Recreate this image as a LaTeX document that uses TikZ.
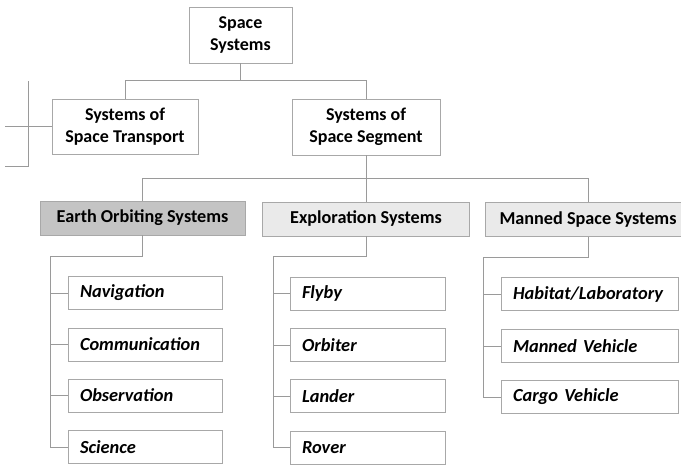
\documentclass[tikz,border=0pt]{standalone}
\usepackage{fontspec}
\setmainfont{Carlito}
\definecolor{lineg}{HTML}{9A9A9A}
\definecolor{boxg}{HTML}{A8A8A8}
\definecolor{darkfill}{HTML}{C4C4C4}
\definecolor{lightfill}{HTML}{EAEAEA}
\tikzset{
  conn/.style={draw=lineg, line width=0.6pt},
  topbox/.style={draw=boxg, line width=0.7pt, fill=white, align=center, inner sep=0pt,
    font=\fontsize{18}{22}\selectfont\bfseries},
  catbox/.style={draw=boxg, line width=0.7pt, inner sep=0pt, minimum height=34pt,
    font=\fontsize{18.2}{22}\selectfont\bfseries},
  leafbox/.style={draw=boxg, line width=0.7pt, fill=white, inner xsep=12pt, inner ysep=0pt,
    minimum height=33pt, align=left,
    font=\fontsize{18.4}{22}\selectfont\bfseries\itshape},
}
\begin{document}
\begin{tikzpicture}[x=1pt,y=-1pt]
\clip (0,0) rectangle (681,466);
\fill[white] (0,0) rectangle (681,466);
% level 0 and 1
\node[topbox, minimum width=103pt, minimum height=56pt] (ss) at (240.5,35) {Space\\Systems};
\node[topbox, minimum width=146pt, minimum height=55pt] (st) at (125,126.5) {Systems of\\Space Transport};
\node[topbox, minimum width=148pt, minimum height=56pt] (sg) at (366,127) {Systems of\\Space Segment};
% level 2
\node[catbox, fill=darkfill, minimum width=205pt] (eo) at (142.5,218) {Earth Orbiting Systems};
\node[catbox, fill=lightfill, minimum width=207pt] (ex) at (366,219) {Exploration Systems};
\node[catbox, fill=lightfill, minimum width=206pt] (ms) at (588,219.5) {Manned Space Systems};
% leaves
\node[leafbox, text width=130pt] (nav) at (145,293) {Navigation};
\node[leafbox, text width=130pt] (com) at (145,344.5) {Communication};
\node[leafbox, text width=130pt] (obs) at (145,395.5) {Observation};
\node[leafbox, text width=130pt] (sci) at (145,447) {Science};
\node[leafbox, text width=131pt] (fly) at (367.5,293.5) {Flyby};
\node[leafbox, text width=131pt] (orb) at (367.5,345) {Orbiter};
\node[leafbox, text width=131pt] (lan) at (367.5,396) {Lander};
\node[leafbox, text width=131pt] (rov) at (367.5,447.5) {Rover};
\node[leafbox, text width=153pt] (hab) at (589.5,294) {Habitat/Laboratory};
\node[leafbox, text width=153pt] (mv) at (589.5,346) {Manned Vehicle};
\node[leafbox, text width=153pt] (cv) at (589.5,397) {Cargo Vehicle};
% connectors level 0-1
\coordinate (j1) at (240,80);
\draw[conn] (ss.south) -- (ss.south |- j1);
\draw[conn] (st.north) -- (st.north |- j1) -| (sg.north);
% left bracket
\coordinate (bt) at (28,81);
\coordinate (bb) at (28,166);
\coordinate (bl) at (5,166);
\coordinate (bm) at (5,126.5);
\draw[conn] (bt) -- (bb) -- (bl);
\draw[conn] (bm) -- (st.west);
% level 1-2
\coordinate (j2) at (366,178);
\draw[conn] (sg.south) -- (ex.north);
\draw[conn] (eo.north) -- (eo.north |- j2) -| (ms.north);
% earth orbiting children
\coordinate (e1) at (50,256);
\draw[conn] (eo.south) |- (e1) |- (sci.west);
\draw[conn] (e1 |- nav.west) -- (nav.west);
\draw[conn] (e1 |- com.west) -- (com.west);
\draw[conn] (e1 |- obs.west) -- (obs.west);
% exploration children
\coordinate (x1) at (273,256.5);
\draw[conn] (ex.south) |- (x1) |- (rov.west);
\draw[conn] (x1 |- fly.west) -- (fly.west);
\draw[conn] (x1 |- orb.west) -- (orb.west);
\draw[conn] (x1 |- lan.west) -- (lan.west);
% manned children
\coordinate (m1) at (483,257);
\draw[conn] (ms.south) |- (m1) |- (cv.west);
\draw[conn] (m1 |- hab.west) -- (hab.west);
\draw[conn] (m1 |- mv.west) -- (mv.west);
\end{tikzpicture}
\end{document}
